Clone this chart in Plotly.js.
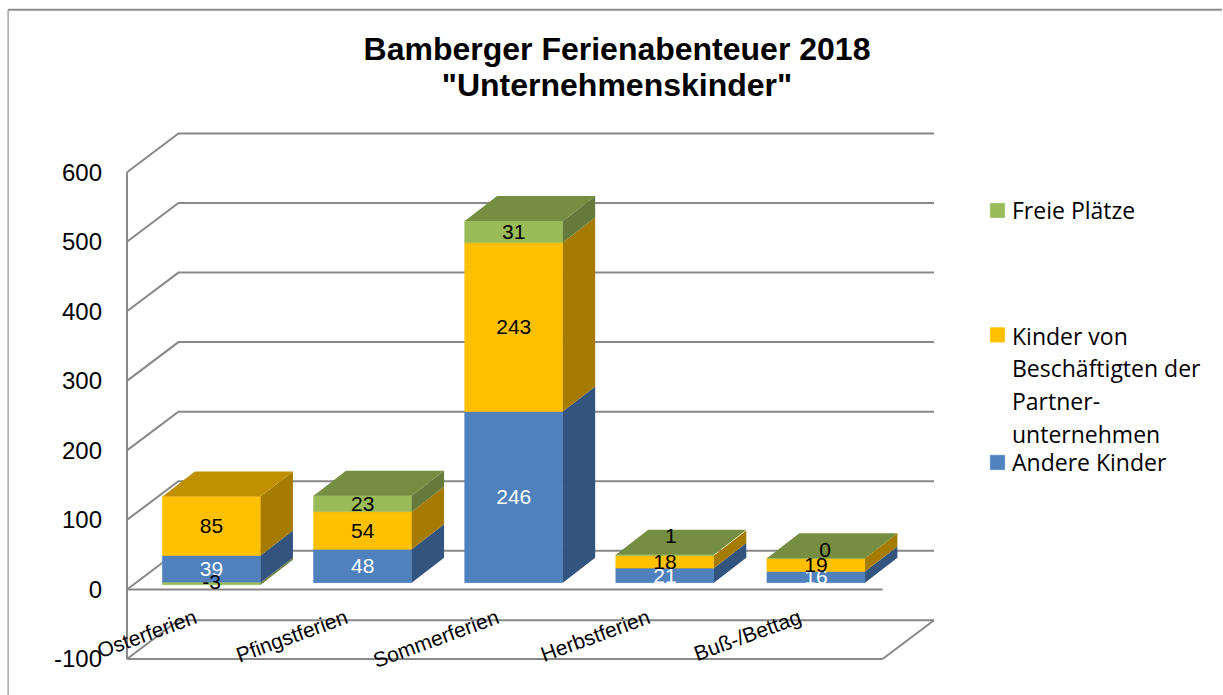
<!DOCTYPE html>
<html><head><meta charset="utf-8">
<script src="https://cdn.plot.ly/plotly-3.0.1.min.js"></script>
<style>html,body{margin:0;padding:0;background:#fff;overflow:hidden}</style>
</head><body><div id="chart" style="width:1223px;height:695px"></div>
<script>
// ---- data ----
const categories = ["Osterferien","Pfingstferien","Sommerferien","Herbstferien","Buß-/Bettag"];
const andereKinder = [39,48,246,21,16];
const partnerKinder = [85,54,243,18,19];
const freiePlaetze = [-3,23,31,1,0];
const valueTicks = [-100,0,100,200,300,400,500,600];
const seriesNames = ["Andere Kinder","Kinder von<br>Beschäftigten der<br>Partner-<br>unternehmen","Freie Plätze"];
// label nudges for the top series as placed in the original (x in category units, y in value units)
const freeLabelNudgeX = [0,0,0,0.04,0.06];
const freeLabelNudgeY = [3,0,0,28,12];

// ---- pseudo-3D view geometry, in axis units ----
const PX_X = 151.3, PX_Y = 0.695;           // px per category, px per value
const W = 1223, H = 695, PAD = 5;
const frontL = 126.5, backR = 934.5, backT = 134.3, frontB = 659;
const plotL = frontL-PAD, plotR = backR+PAD, plotT = backT-PAD, plotB = frontB+PAD;
const wallDX = 51.5/PX_X, wallDY = 38.7/PX_Y;  // depth of the chart box
const barShiftX = 9/PX_X, barShiftY = 6.8/PX_Y; // bars stand a little behind the front plane
const barDX = 32.4/PX_X, barDY = 25/PX_Y;     // depth of a bar
const barW = 98.2/PX_X;
const xMin = -0.5, xFront = 4.5, yFloor = -100;
const xLo = xMin-PAD/PX_X, xHi = xLo+(plotR-plotL)/PX_X;
const yLo = yFloor-PAD/PX_Y, yHi = yLo+(plotB-plotT)/PX_Y;
const labelDrop = 2/PX_Y, tickShift = 8/PX_X;

const idx = categories.map((_,i)=>i);
const GRID = '#888888';
const COL = {
  blue:'#4f81bd', blueSide:'#345480',
  orange:'#ffc000', orangeSide:'#a67c00', orangeTop:'#bf9000',
  green:'#9bbb59', greenSide:'#667a3c', greenTop:'#768e42'
};

// back-wall, side-wall and floor lines
const gx=[], gy=[];
valueTicks.forEach(v=>{
  gx.push(xMin, xMin+wallDX, xFront+wallDX, null);
  gy.push(v, v+wallDY, v+wallDY, null);
});
const lineSeg=(a,b,c,d)=>{gx.push(a,c,null);gy.push(b,d,null);};
lineSeg(xMin,-100,xMin,600);                 // value axis
lineSeg(xMin,0,xFront,0);                    // category axis
lineSeg(xMin,-100,xFront,-100);              // floor front
lineSeg(xFront,-100,xFront+wallDX,-100+wallDY); // floor right

const poly=(arrX,arrY,pts)=>{pts.forEach(p=>{arrX.push(p[0]);arrY.push(p[1]);});arrX.push(null);arrY.push(null);};
function sideTrace(lo,hi,color){
  const x=[],y=[];
  idx.forEach(i=>{
    if(lo[i]===hi[i]) return;
    const r=i+barW/2;
    poly(x,y,[[r,lo[i]],[r+barDX,lo[i]+barDY],[r+barDX,hi[i]+barDY],[r,hi[i]],[r,lo[i]]]);
  });
  return {type:'scatter',mode:'lines',x,y,xaxis:'x2',yaxis:'y2',fill:'toself',fillcolor:color,
    line:{width:0,color},showlegend:false,hoverinfo:'skip'};
}
function topTrace(which,color){
  const x=[],y=[];
  idx.forEach(i=>{
    if(!which(i)) return;
    const t=andereKinder[i]+partnerKinder[i]+Math.max(freiePlaetze[i],0);
    const l=i-barW/2,r=i+barW/2;
    poly(x,y,[[l,t],[l+barDX,t+barDY],[r+barDX,t+barDY],[r,t],[l,t]]);
  });
  return {type:'scatter',mode:'lines',x,y,xaxis:'x2',yaxis:'y2',fill:'toself',fillcolor:color,
    line:{width:0,color},showlegend:false,hoverinfo:'skip'};
}
const zero=idx.map(()=>0);
const s1=andereKinder, s2=idx.map(i=>andereKinder[i]+partnerKinder[i]);
const s3=idx.map(i=>s2[i]+Math.max(freiePlaetze[i],0));
const freeLo=idx.map(i=>Math.min(freiePlaetze[i],0));

function barTrace(y,color,name,legend){
  return {type:'bar',x:idx,y,name,width:barW,xaxis:'x2',yaxis:'y2',legend,
    marker:{color,line:{color,width:0.6}},hoverinfo:'skip'};
}
const labelFont=c=>({family:'"Liberation Sans",Arial,sans-serif',size:21,color:c});
function labelTrace(x,y,vals,c){
  return {type:'scatter',mode:'text',x,y:y.map(v=>v-labelDrop),text:vals.map(String),textposition:'middle center',
    textfont:labelFont(c),xaxis:'x2',yaxis:'y2',showlegend:false,hoverinfo:'skip'};
}

const traces=[
  {type:'scatter',mode:'lines',x:gx,y:gy,line:{color:GRID,width:2},showlegend:false,hoverinfo:'skip',connectgaps:false},
  barTrace(andereKinder,COL.blue,seriesNames[0],'legend3'),
  barTrace(partnerKinder,COL.orange,'<span style="font-size:23px">'+seriesNames[1].replace(/<br>/g,'</span><br><span style="font-size:23px">')+'</span>','legend2'),
  barTrace(freiePlaetze,COL.green,seriesNames[2],'legend'),
  sideTrace(zero,s1,COL.blueSide),
  sideTrace(s1,s2,COL.orangeSide),
  sideTrace(s2,s3,COL.greenSide),
  sideTrace(freeLo,zero,COL.greenSide),
  topTrace(i=>freiePlaetze[i]<0,COL.orangeTop),
  topTrace(i=>freiePlaetze[i]>=0,COL.greenTop),
  labelTrace(idx,idx.map(i=>andereKinder[i]/2),andereKinder,'#ffffff'),
  labelTrace(idx,idx.map(i=>andereKinder[i]+partnerKinder[i]/2),partnerKinder,'#000000'),
  labelTrace(idx.map(i=>i+freeLabelNudgeX[i]),
    idx.map(i=>(freiePlaetze[i]<0?freiePlaetze[i]/2:s2[i]+freiePlaetze[i]/2)+freeLabelNudgeY[i]),freiePlaetze,'#000000')
];

const legendAt=(px,py,size)=>({xref:'container',yref:'container',x:px/W,y:1-py/H,xanchor:'left',yanchor:'top',
  bgcolor:'rgba(0,0,0,0)',font:{family:'"Open Sans",sans-serif',size,color:'#000'},valign:'top',
  itemclick:false,itemdoubleclick:false,traceorder:'normal'});

const layout={
  width:W,height:H,paper_bgcolor:'#fff',plot_bgcolor:'rgba(0,0,0,0)',
  margin:{l:plotL,r:W-plotR,t:plotT,b:H-plotB,autoexpand:false},
  title:{text:'<span style="font-size:32px">Bamberger Ferienabenteuer 2018</span><br><span style="font-size:32px">"Unternehmenskinder"</span>',
    font:{family:'"Liberation Sans",Arial,sans-serif',size:27.7,color:'#000',weight:'bold'},
    x:617/W,xanchor:'center',xref:'container',y:1-59.5/H,yanchor:'middle',yref:'container'},
  barmode:'relative',
  xaxis:{type:'linear',range:[xLo,xHi],anchor:'free',position:(0-yLo)/(yHi-yLo),
    tickmode:'array',tickvals:idx.map(i=>i-tickShift),ticktext:categories,tickangle:-20,ticks:'',showgrid:false,zeroline:false,showline:false,
    ticklabelstandoff:12,tickfont:{family:'"Liberation Sans",Arial,sans-serif',size:21,color:'#000'}},
  yaxis:{type:'linear',range:[yLo,yHi],tickmode:'array',tickvals:valueTicks,ticktext:valueTicks.map(String),ticks:'',
    showgrid:false,zeroline:false,showline:false,ticklabelstandoff:19,
    tickfont:{family:'"Liberation Sans",Arial,sans-serif',size:24,color:'#000'}},
  xaxis2:{type:'linear',overlaying:'x',range:[xLo-barShiftX,xHi-barShiftX],visible:false,anchor:'y2'},
  yaxis2:{type:'linear',overlaying:'y',range:[yLo-barShiftY,yHi-barShiftY],visible:false,anchor:'x2'},
  legend:legendAt(972,189,23),
  legend2:legendAt(972,312,25.2),
  legend3:legendAt(972,441,23),
  shapes:[
    {type:'line',xref:'paper',yref:'paper',layer:'below',
     x0:(7.5-plotL)/(plotR-plotL),x1:(7.5-plotL)/(plotR-plotL),y0:(plotB-700)/(plotB-plotT),y1:(plotB-10)/(plotB-plotT),
     line:{color:'#a6a6a6',width:1.5}},
    {type:'line',xref:'paper',yref:'paper',layer:'below',
     x0:(7.5-plotL)/(plotR-plotL),x1:(1222.7-plotL)/(plotR-plotL),y0:(plotB-10)/(plotB-plotT),y1:(plotB-10)/(plotB-plotT),
     line:{color:'#8c8c8c',width:2}}]
};
Plotly.newPlot('chart',traces,layout,{displayModeBar:false,responsive:false}).then(()=>{
  // the legend swatches of the original sit closer to the text and are slightly larger
  document.querySelectorAll('.legendsymbols').forEach(g=>g.setAttribute('transform','translate(5.5,0)'));
  document.querySelectorAll('.legendpoints path').forEach(p=>p.setAttribute('d','M7.2,7.2H-7.2V-7.2H7.2Z'));
});
</script></body></html>
